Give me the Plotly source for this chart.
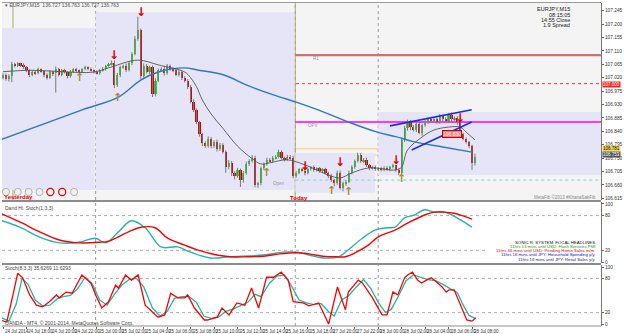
import plotly.graph_objects as go

# ---------------- DATA ----------------
first_open = 107.020
closes = [
    107.030, 107.015, 107.025, 107.065, 107.060, 107.068, 107.062, 107.055, 107.045, 107.030,
    107.040, 107.035, 107.048, 107.042, 107.030, 107.020, 107.040, 107.035, 107.050, 107.030,
    107.045, 107.038, 107.025, 107.040, 107.048, 107.045, 107.040, 107.048, 107.055, 107.050,
    107.045, 107.040, 107.035, 107.045, 107.050, 107.060, 107.065, 107.070, 106.995, 107.030,
    107.055, 107.060, 107.045, 107.070, 107.100, 107.150, 107.180, 107.025, 107.060, 107.040,
    107.055, 106.965, 107.010, 107.045, 107.050, 107.035, 107.060, 107.050, 107.045, 107.030,
    107.040, 107.020, 107.010, 106.990, 106.940, 106.910, 106.870, 106.830, 106.800, 106.790,
    106.815, 106.790, 106.805, 106.780, 106.795, 106.770, 106.720, 106.735, 106.700, 106.690,
    106.710, 106.675, 106.700, 106.730, 106.740, 106.750, 106.660, 106.665, 106.715, 106.730,
    106.745, 106.740, 106.750, 106.755, 106.770, 106.750, 106.745, 106.755, 106.750, 106.690,
    106.700, 106.712, 106.708, 106.700, 106.712, 106.720, 106.710, 106.715, 106.705, 106.712,
    106.700, 106.690, 106.675, 106.665, 106.700, 106.650, 106.665, 106.670, 106.700, 106.720,
    106.740, 106.760, 106.740, 106.745, 106.725, 106.715, 106.720, 106.712, 106.715, 106.710,
    106.718, 106.712, 106.720, 106.725, 106.710, 106.700, 106.810, 106.850, 106.870, 106.855,
    106.845, 106.865, 106.835, 106.860, 106.870, 106.880, 106.875, 106.880, 106.870, 106.890,
    106.880, 106.875, 106.895, 106.880, 106.885, 106.870, 106.830, 106.815, 106.805, 106.790,
    106.735, 106.753]
# wick lengths in points (0.001)
up_wick = [
    5, 4, 6, 8, 5, 4, 3, 6, 4, 3,
    5, 4, 6, 3, 4, 5, 6, 4, 8, 3,
    4, 5, 3, 6, 4, 5, 3, 4, 5, 3,
    4, 3, 5, 4, 6, 3, 5, 8, 8, 6,
    5, 4, 8, 5, 6, 10, 45, 5, 8, 6,
    5, 6, 8, 6, 5, 7, 6, 4, 5, 5,
    6, 4, 5, 5, 6, 8, 7, 5, 5, 6,
    8, 6, 5, 7, 6, 5, 6, 8, 5, 6,
    7, 5, 6, 8, 6, 10, 8, 5, 6, 5,
    6, 5, 7, 5, 8, 6, 5, 6, 5, 8,
    6, 4, 5, 12, 4, 3, 5, 4, 5, 4,
    5, 4, 6, 5, 8, 8, 6, 5, 8, 6,
    5, 8, 6, 5, 6, 5, 4, 5, 4, 5,
    4, 5, 4, 6, 3, 5, 10, 8, 9, 8,
    6, 8, 10, 6, 8, 7, 6, 8, 7, 8,
    6, 7, 6, 8, 5, 6, 5, 5, 4, 3,
    5, 12]
dn_wick = [
    6, 5, 8, 20, 5, 4, 6, 5, 6, 8,
    5, 6, 4, 5, 8, 6, 5, 10, 65, 6,
    5, 4, 8, 5, 4, 6, 5, 4, 3, 5,
    4, 6, 4, 5, 4, 6, 3, 4, 10, 6,
    8, 5, 6, 4, 8, 5, 6, 10, 8, 6,
    7, 10, 8, 5, 6, 8, 5, 7, 6, 5,
    6, 8, 6, 8, 6, 5, 6, 8, 10, 6,
    5, 7, 6, 8, 6, 5, 20, 8, 10, 12,
    6, 22, 8, 6, 7, 5, 8, 10, 6, 5,
    6, 5, 7, 5, 6, 5, 6, 4, 5, 8,
    6, 5, 4, 8, 5, 4, 6, 5, 4, 6,
    5, 8, 6, 10, 5, 6, 12, 8, 4, 5,
    6, 5, 6, 7, 5, 6, 4, 5, 6, 5,
    4, 5, 6, 5, 6, 8, 5, 6, 8, 12,
    6, 8, 5, 10, 5, 6, 5, 8, 6, 5,
    6, 5, 8, 6, 5, 8, 6, 5, 6, 6,
    25, 10]

# moving averages (bar index, price)
fast_ma_idx = [0, 10, 20, 31, 36, 46, 53, 62, 64, 66, 68, 71, 75, 80, 85, 88, 91, 97, 103, 111, 115, 119, 125, 134, 136, 138, 143, 147, 152, 156, 158, 161]
fast_ma_val = [107.040, 107.045, 107.040, 107.039, 107.053, 107.079, 107.063, 107.039, 107.020, 106.990, 106.945, 106.898, 106.850, 106.790, 106.748, 106.730, 106.734, 106.744, 106.727, 106.693, 106.683, 106.700, 106.717, 106.710, 106.720, 106.777, 106.821, 106.844, 106.854, 106.854, 106.837, 106.811]
slow_ma_idx = [-1, 27, 39.4, 47, 53, 62, 66.3, 75.4, 83.2, 92.3, 100, 107.7, 117.8, 128, 134, 140, 150, 160]
slow_ma_val = [106.811, 106.912, 106.955, 107.012, 107.039, 107.053, 107.046, 107.029, 106.995, 106.962, 106.938, 106.911, 106.871, 106.836, 106.822, 106.805, 106.787, 106.770]

# channel lines (start/end)
chan_up_idx = [132.0, 159.9]
chan_up_val = [106.858, 106.912]
chan_lo_idx = [139.4, 159.9]
chan_lo_val = [106.777, 106.871]

# signal arrows
down_idx = [38, 47, 103, 115, 134, 156]
down_price = [107.096, 107.240, 106.723, 106.737, 106.744, 106.885]
up_idx = [26, 39, 90, 112, 118, 136]
up_price = [107.019, 106.955, 106.702, 106.640, 106.636, 106.680]

# levels
R1_LEVEL = 107.096
PREV_LEVEL = 107.000
OPV_LEVEL = 106.871
YELLOW_LEVELS = [106.781, 106.760]
CYAN_LEVEL = 106.676
BID = 106.753
LABEL_BOX = 106.830

# day boxes: (x0, x1, low, high)
day_boxes = [(-1, 31.3, 106.643, 107.187), (31.6, 99.3, 106.643, 107.240),
             (99.7, 126.9, 106.633, 106.767), (128.0, 205, 106.693, 106.905)]
separators = [31.6, 99.7, 128.0]
yesterday_idx = 3.4
today_idx = 99.7

# oscillator 1 (slow stoch)
osc1_red_idx = [-1, 5.7, 12.5, 19.2, 25.9, 32.7, 36, 42.8, 47.1, 51.9, 56.2, 62, 66.3, 73, 77.4, 83.2, 88.9, 94.3, 100, 104.4, 109.1, 113.5, 116.8, 120.2, 124.6, 127.9, 133.7, 138, 143.8, 147.1, 150.5, 153.9, 157.2, 160]
osc1_red_val = [84, 69, 52, 38, 33, 34, 36, 52, 60, 59, 41, 29, 21, 12, 9, 9, 10, 14, 16, 14, 10, 9, 9, 16, 29, 43, 55, 67, 81, 86, 86, 84, 79, 74]
osc1_teal_idx = [-1, 5.7, 12.5, 19.2, 25.9, 31.6, 35, 39.4, 43.8, 48.5, 53.9, 59.6, 64, 70.7, 77.4, 88.9, 95.6, 100, 104.4, 109.1, 114.5, 117.8, 122.6, 126.9, 131.3, 133.7, 137, 140.4, 143.8, 147.1, 150.5, 153.2, 156.2, 160]
osc1_teal_val = [72, 60, 43, 33, 34, 41, 33, 52, 71, 59, 26, 26, 17, 7, 9, 12, 17, 17, 12, 7, 9, 21, 41, 55, 59, 60, 76, 81, 90, 86, 86, 81, 72, 60]

# oscillator 2 (fast stoch)
osc2_red_idx = [-1, 1.3, 3.4, 5, 6.7, 9.1, 11.4, 13.5, 15.8, 18.2, 19.2, 21.5, 23.6, 26.9, 30, 31.6, 33.7, 36, 38.4, 39.4, 41.8, 43.8, 46.1, 48.5, 52.9, 55.2, 57.2, 59.6, 62, 63, 65.3, 68.7, 69.7, 73.1, 74.7, 77.1, 79.8, 82.5, 84.8, 87.2, 89.9, 92.3, 94.9, 97.3, 99, 102.4, 104.4, 107.7, 111.1, 114.1, 116.8, 117.8, 121.2, 122.6, 125.9, 129.3, 131, 133, 134.7, 137, 138, 139.7, 141.4, 142.8, 144.4, 146.1, 147.8, 149.8, 151.2, 152.2, 153.9, 156.2, 158.2, 160, 161.3]
osc2_red_val = [7, 3.5, 51, 89, 81, 51, 33, 30, 39, 51, 46, 56, 54, 86, 72, 51, 28, 39, 68, 63, 86, 77, 86, 33, 12, 16, 54, 46, 46, 51, 28, 7, 7, 12, 28, 16, 37, 33, 63, 28, 82, 82, 91, 77, 39, 37, 32, 37, 0, 65, 25, 56, 77, 72, 47, 16, 16, 56, 51, 81, 86, 91, 77, 72, 77, 81, 74, 65, 56, 60, 60, 33, 7, 5, 11]
osc2_teal_idx = [-1, 2, 4.5, 6.5, 8.5, 11, 13.5, 16, 18.5, 20.5, 23, 25.5, 28, 30.5, 33, 35.5, 38, 40.5, 43, 45.5, 48, 51, 53.5, 56, 58.5, 61, 63.5, 66, 68.5, 71, 73.5, 76, 78.5, 81, 83.5, 86, 88, 91, 93.5, 96, 98.5, 101, 103.5, 106, 108.5, 111, 113, 115.5, 118, 120.5, 123, 125.5, 128, 130.5, 132.5, 135, 137.5, 140, 142.5, 145, 147.5, 150, 152.5, 155, 157, 159, 161]
osc2_teal_val = [12, 5, 35, 80, 70, 42, 32, 33, 44, 48, 50, 62, 82, 70, 42, 33, 52, 68, 78, 80, 65, 28, 14, 22, 45, 48, 48, 38, 14, 10, 12, 22, 26, 32, 38, 52, 48, 72, 84, 86, 66, 42, 37, 34, 36, 22, 14, 42, 50, 65, 78, 62, 38, 20, 26, 50, 76, 86, 82, 78, 76, 70, 62, 55, 33, 15, 10]

price_ticks = [107.245, 107.200, 107.155, 107.110, 107.065, 107.020, 106.975, 106.930,
               106.885, 106.840, 106.795, 106.750, 106.705, 106.660, 106.615]
osc_ticks = [0, 20, 80, 100]
xlabel_idx = [0, 8, 16, 24, 32, 40, 48, 56, 64, 72, 80, 88, 96, 104, 112, 120, 128, 136, 144, 152, 160]
xlabels = ["24 Jul 2014", "24 Jul 18:00", "24 Jul 20:00", "24 Jul 22:00", "25 Jul 00:00",
           "25 Jul 02:00", "25 Jul 04:00", "25 Jul 06:00", "25 Jul 08:00", "25 Jul 10:00",
           "25 Jul 12:00", "25 Jul 14:00", "25 Jul 16:00", "25 Jul 18:00", "27 Jul 20:00",
           "27 Jul 22:00", "28 Jul 00:00", "28 Jul 02:00", "28 Jul 04:00", "28 Jul 06:00",
           "28 Jul 08:00"]

# ---------------- LAYOUT GEOMETRY ----------------
W, H = 625, 334
ML, MR, MT, MB = 2, 16, 2, 8
PW, PH = W - ML - MR, H - MT - MB


def px(xp):
    return (xp - ML) / PW


def py(yp):
    return (H - MB - yp) / PH


FONT = "Liberation Sans, Arial, sans-serif"
n = len(closes)
idx = list(range(n))
opens = [first_open] + closes[:-1]
highs = [max(o, c) + u / 1000 for o, c, u in zip(opens, closes, up_wick)]
lows = [min(o, c) - d / 1000 for o, c, d in zip(opens, closes, dn_wick)]

fig = go.Figure()

# wicks
wx, wy = [], []
for i in idx:
    wx += [i, i, None]
    wy += [lows[i], highs[i], None]
fig.add_trace(go.Scatter(x=wx, y=wy, mode="lines", line=dict(color="#7a7a7a", width=1),
                         hoverinfo="skip", xaxis="x", yaxis="y"))
# bodies
body_h = [max(abs(c - o), 0.0015) for o, c in zip(opens, closes)]
body_b = [min(o, c) if abs(c - o) >= 0.0015 else (o + c) / 2 - 0.00075 for o, c in zip(opens, closes)]
body_col = ["#2fd22f" if c >= o else "#d40000" for o, c in zip(opens, closes)]
fig.add_trace(go.Bar(x=idx, y=body_h, base=body_b, marker=dict(color=body_col, line=dict(width=0)),
                     width=0.75, xaxis="x", yaxis="y", hoverinfo="skip"))

# moving averages
fig.add_trace(go.Scatter(x=slow_ma_idx, y=slow_ma_val, mode="lines", line=dict(color="#2f78c0", width=1.4, shape="spline"),
                         xaxis="x", yaxis="y"))
fig.add_trace(go.Scatter(x=fast_ma_idx, y=fast_ma_val, mode="lines", line=dict(color="#555555", width=0.9, shape="spline"),
                         xaxis="x", yaxis="y"))
# channel
fig.add_trace(go.Scatter(x=chan_up_idx, y=chan_up_val, mode="lines", line=dict(color="#1a2ee0", width=1.6), xaxis="x", yaxis="y"))
fig.add_trace(go.Scatter(x=chan_lo_idx, y=chan_lo_val, mode="lines", line=dict(color="#1a2ee0", width=1.6), xaxis="x", yaxis="y"))

# oscillators
fig.add_trace(go.Scatter(x=osc1_teal_idx, y=osc1_teal_val, mode="lines", line=dict(color="#22b5a8", width=1.4, shape="spline"), xaxis="x", yaxis="y2"))
fig.add_trace(go.Scatter(x=osc1_red_idx, y=osc1_red_val, mode="lines", line=dict(color="#ff0000", width=1.4, shape="spline"), xaxis="x", yaxis="y2"))
fig.add_trace(go.Scatter(x=osc2_teal_idx, y=osc2_teal_val, mode="lines", line=dict(color="#22b5a8", width=1.3), xaxis="x", yaxis="y3"))
fig.add_trace(go.Scatter(x=osc2_red_idx, y=osc2_red_val, mode="lines", line=dict(color="#ff0000", width=1.3), xaxis="x", yaxis="y3"))

shapes = []
# main panel background
shapes.append(dict(type="rect", xref="x domain", yref="y domain", x0=0, x1=1, y0=0, y1=1,
                   fillcolor="#f4f4f4", line=dict(width=0), layer="below"))
for x0, x1, lo, hi in day_boxes:
    shapes.append(dict(type="rect", xref="x", yref="y", x0=x0, x1=x1, y0=lo, y1=hi,
                       fillcolor="#e5e5f7", line=dict(width=0), layer="below"))
# horizontal levels
shapes.append(dict(type="line", xref="x domain", yref="y", x0=0, x1=1, y0=PREV_LEVEL, y1=PREV_LEVEL,
                   line=dict(color="#ff3030", width=1, dash="dot"), layer="below"))
for lv in YELLOW_LEVELS:
    shapes.append(dict(type="line", xref="x domain", yref="y", x0=0, x1=1, y0=lv, y1=lv,
                       line=dict(color="#f2d26a", width=1), layer="below"))
shapes.append(dict(type="line", xref="x", yref="y", x0=today_idx, x1=205, y0=R1_LEVEL, y1=R1_LEVEL,
                   line=dict(color="#c87474", width=2.2), layer="below"))
shapes.append(dict(type="line", xref="x", yref="y", x0=today_idx, x1=205, y0=OPV_LEVEL, y1=OPV_LEVEL,
                   line=dict(color="#ff00ff", width=1.5), layer="below"))
shapes.append(dict(type="line", xref="x", yref="y", x0=today_idx, x1=205, y0=CYAN_LEVEL, y1=CYAN_LEVEL,
                   line=dict(color="#7fd4d4", width=1, dash="dot"), layer="below"))
# vertical lines
for s in separators:
    shapes.append(dict(type="line", xref="x", yref="paper", x0=s, x1=s, y0=0, y1=py(3),
                       line=dict(color="#9a9a9a", width=1, dash="dot"), layer="below"))
for s in [yesterday_idx, today_idx]:
    shapes.append(dict(type="line", xref="x", yref="y domain", x0=s, x1=s, y0=0, y1=1,
                       line=dict(color="#a8a870", width=1), layer="below"))
# oscillator dotted levels
for ya in ["y2", "y3"]:
    for lv in [20, 80]:
        shapes.append(dict(type="line", xref="x domain", yref=ya, x0=0, x1=1, y0=lv, y1=lv,
                           line=dict(color="#b0b0b0", width=1, dash="dot"), layer="below"))
# panel separators and frame
for yp in [201, 264]:
    shapes.append(dict(type="line", xref="paper", yref="paper", x0=0, x1=1, y0=py(yp), y1=py(yp),
                       line=dict(color="#8c8c8c", width=2)))
shapes.append(dict(type="line", xref="paper", yref="paper", x0=0, x1=1, y0=py(2.5), y1=py(2.5),
                   line=dict(color="#9c9c9c", width=1)))
shapes.append(dict(type="line", xref="paper", yref="paper", x0=0, x1=1, y0=0, y1=0,
                   line=dict(color="#8c8c8c", width=1)))
# info box in oscillator 1
shapes.append(dict(type="rect", xref="paper", yref="paper", x0=px(493), x1=px(607), y0=py(262), y1=py(238),
                   fillcolor="white", line=dict(width=0)))
# buttons
for i, cx in enumerate([6, 18, 29, 40, 51, 63, 75]):
    red = cx in (51, 63)
    shapes.append(dict(type="circle", xref="paper", yref="paper",
                       x0=px(cx - 3.6), x1=px(cx + 3.6), y0=py(192 + 3.6), y1=py(192 - 3.6),
                       line=dict(color="#e00000" if red else "#a0a0a0", width=1.2 if red else 0.8),
                       fillcolor="#f0f0f0"))

ann = []


def txt(x, y, s, size=5, color="#444", xanchor="left", yanchor="middle", bold=False, xref="paper", yref="paper", **kw):
    d = dict(x=x, y=y, xref=xref, yref=yref, text=("<b>%s</b>" % s) if bold else s, showarrow=False,
             xanchor=xanchor, yanchor=yanchor, font=dict(size=size, color=color, family=FONT))
    d.update(kw)
    ann.append(d)


for i, p in zip(down_idx, down_price):
    txt(i, p, "↓", xanchor="center", bold=True, xref="x", yref="y",
        font=dict(size=12, color="#e00000", family="DejaVu Sans"))
for i, p in zip(up_idx, up_price):
    txt(i, p, "↑", xanchor="center", bold=True, xref="x", yref="y",
        font=dict(size=11, color="#a88a28", family="DejaVu Sans"))

# top texts
txt(px(3), py(5), "▾ EURJPY,M15  136.727 136.763 136.727 136.763", size=5, color="#555")
for s, yy in zip(["EURJPY,M15", "08:15:05", "14:55 Close", "1.9 Spread"], [9, 15, 20, 25]):
    txt(px(580), py(yy), s, size=5.5, color="#222", xanchor="right")
txt(px(2), py(197), "Yesterday", size=6, color="#e00000", bold=True)
txt(px(292), py(197.5), "Today", size=6, color="#e00000", bold=True)
txt(105, R1_LEVEL - 0.010, "R1", size=4.5, color="#999", xref="x", yref="y")
txt(103.5, OPV_LEVEL - 0.010, "OPV", size=4.5, color="#999", xref="x", yref="y")
txt(94.3, 106.666, "Open", size=4.5, color="#999", xref="x", yref="y", xanchor="center")
txt(153.2, LABEL_BOX, "106.830", size=5, color="#ffffff", xref="x", yref="y", xanchor="center",
    bgcolor="#ef7f7f", bordercolor="#d00000", borderwidth=1, borderpad=0)
txt(px(606), py(197), "MetaFib ©2013 #KhanaSakFib", size=4.5, color="#888", xanchor="right")
txt(px(3), py(208), "Dand Hi. Stoch(1,3,3)", size=5, color="#444")
txt(px(3), py(268), "Stoch(8,3,3) 35.6269 11.6293", size=5, color="#444")
txt(px(3), py(322.5), "OANDA - MT4, © 2001-2014, MetaQuotes Software Corp.", size=5, color="#444")
# headlines box
head = [("SONIC R. SYSTEM: FOCAL HEADLINES", "#111111", 242),
        ("11hrs 13 mins until USD: Flash Services PMI", "#10a010", 246.5),
        ("11hrs 46 mins until USD: Pending Home Sales m/m", "#e00000", 250.7),
        ("11hrs 16 mins until JPY: Household Spending y/y", "#1010c0", 254.9),
        ("11hrs 16 mins until JPY: Retail Sales y/y", "#1010c0", 259)]
for s, col, yy in head:
    txt(px(605), py(yy), s, size=4.3, color=col, xanchor="right")
# right-axis price boxes (pixel rows as in the reference)
for val, bg, fc, row in [(PREV_LEVEL, "#ff2020", "#ffffff", 84), (YELLOW_LEVELS[0], "#f5d75a", "#000000", 148.5),
                         (BID, "#555555", "#ffffff", 154.5)]:
    ann.append(dict(x=1, y=py(row), xref="paper", yref="paper", text="%.3f" % val, showarrow=False,
                    xanchor="left", yanchor="middle", xshift=1,
                    font=dict(size=4.5, color=fc, family=FONT), bgcolor=bg, borderpad=0))
# x labels
for i, s in zip(xlabel_idx, xlabels):
    ann.append(dict(x=i, y=0, xref="x", yref="paper", text=s, showarrow=False, xanchor="left",
                    yanchor="top", yshift=-1, font=dict(size=4.5, color="#333", family=FONT)))

axis_common = dict(showgrid=False, zeroline=False, side="right", anchor="x", ticks="outside", ticklen=2,
                   tickcolor="#666", showline=True, linecolor="#777", linewidth=1,
                   tickfont=dict(size=4.8, color="#333", family=FONT))
fig.update_layout(
    width=W, height=H, margin=dict(l=ML, r=MR, t=MT, b=MB),
    paper_bgcolor="white", plot_bgcolor="white", showlegend=False, bargap=0,
    xaxis=dict(domain=[0, 1], range=[-0.34, 204.0], anchor="y3", showgrid=False, zeroline=False,
               tickvals=xlabel_idx, ticks="outside", ticklen=2, tickcolor="#666", showticklabels=False,
               showline=False),
    yaxis=dict(domain=[py(200), py(3)], range=[106.609, 107.271], tickvals=price_ticks,
               tickformat=".3f", **axis_common),
    yaxis2=dict(domain=[py(263), py(202)], range=[-1.7, 103.4], tickvals=osc_ticks, **axis_common),
    yaxis3=dict(domain=[0, py(265)], range=[-3.5, 103.5], tickvals=osc_ticks, **axis_common),
    shapes=shapes, annotations=ann,
)
fig.write_html("out.html")
